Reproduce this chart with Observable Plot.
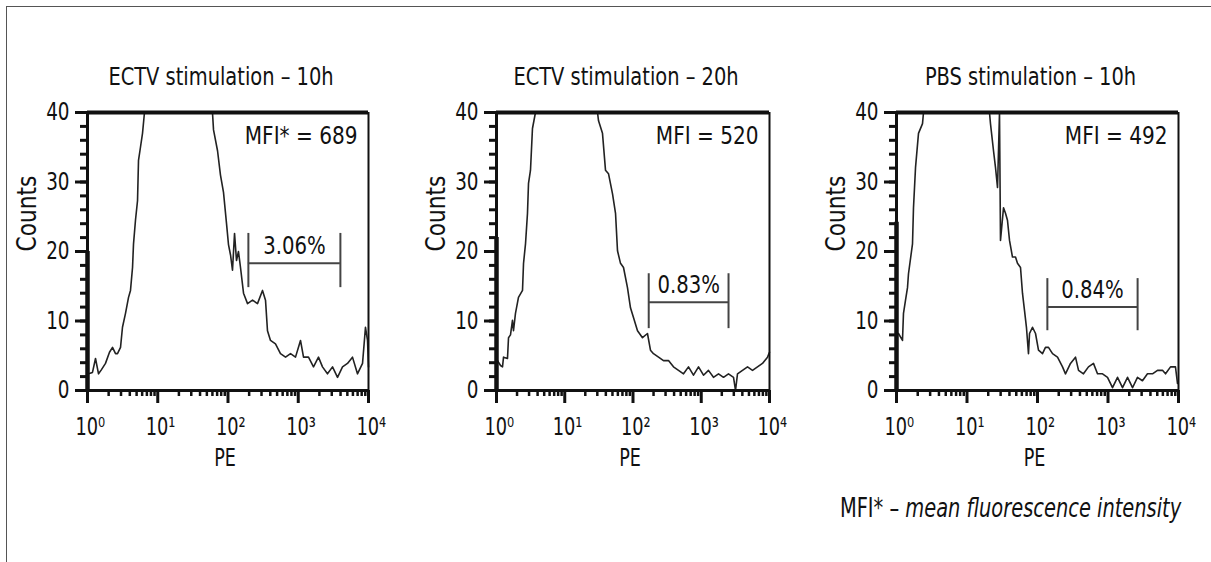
<!DOCTYPE html>
<html><head><meta charset="utf-8">
<script src="https://cdn.jsdelivr.net/npm/d3@7"></script>
<script src="https://cdn.jsdelivr.net/npm/@observablehq/plot@0.6"></script>
<style>
body{margin:0;background:#fff;}
#page{position:relative;width:1211px;height:562px;overflow:hidden;background:#fff;font-family:"Liberation Sans Narrow","DejaVu Sans Condensed",sans-serif;color:#111;}
#frame{position:absolute;left:6px;top:6px;right:-10px;bottom:-10px;border-top:1.5px solid #555;border-left:1.5px solid #555;}
.panel{position:absolute;top:50px;}
#caption{position:absolute;right:30px;top:495px;font-size:26px;line-height:26px;color:#111;white-space:nowrap;transform:scaleX(0.83);transform-origin:right center;}
</style></head><body>
<div id="page"><div id="frame"></div><div id="caption">MFI* – <i>mean fluorescence intensity</i></div></div>
<script>
// ---- text ----
const titles = ["ECTV stimulation – 10h", "ECTV stimulation – 20h", "PBS stimulation – 10h"];
const mfiLabels = ["MFI* = 689", "MFI = 520", "MFI = 492"];
const gateLabels = ["3.06%", "0.83%", "0.84%"];
const xTickValues = [1, 10, 100, 1000, 10000];
const xTickLabels = ["10⁰", "10¹", "10²", "10³", "10⁴"];
const yTickValues = [0, 10, 20, 30, 40];
const yMinorTicks = [0,2,4,6,8,10,12,14,16,18,20,22,24,26,28,30,32,34,36,38,40];

// ---- gates (PE values, counts) ----
const gateStart = [195, 170, 138];
const gateEnd = [3980, 2510, 2630];
const gateLevel = [18.3, 12.7, 12.0];
const gateTickLow = [14.8, 8.9, 8.6];
const gateTickHigh = [22.6, 16.8, 16.1];

// ---- counts in the first channel (PE = 10^0) ----
const firstBin = [20, 22, 24.2];

// ---- histograms: log10(PE) and counts ----
const p1LogPE = [0.014,0.071,0.114,0.157,0.199,0.256,0.313,0.356,0.399,0.427,0.470,0.498,0.541,0.584,0.612,0.641,0.655,0.683,0.712,0.726,0.754,0.783,0.811,1.779,1.794,1.851,1.893,1.936,1.979,2.007,2.036,2.064,2.093,2.121,2.149,2.178,2.221,2.278,2.349,2.420,2.491,2.534,2.562,2.605,2.676,2.747,2.819,2.890,2.961,3.032,3.075,3.146,3.217,3.288,3.345,3.416,3.488,3.559,3.630,3.701,3.772,3.843,3.915,3.957,3.986,4.0];
const p1Counts = [2.4,2.6,4.6,2.4,3.0,3.9,5.5,6.2,5.3,5.3,6.2,9.1,11.1,13.4,14.4,17.7,21.1,24.5,27.3,33.1,35,37,40,40,37.5,34.5,31,28.5,24,21,19.5,17.3,22.6,18.7,20,17.7,14,12.5,13,12.5,14.4,13,8.6,7.2,6.7,5.3,4.8,5.3,4.8,7.2,4.8,4.8,3.4,4.8,3.4,2.4,3.4,1.9,3.4,3.9,4.8,2.4,3.9,9.1,7.2,3.4];

const p2LogPE = [0.015,0.059,0.088,0.103,0.161,0.176,0.205,0.234,0.249,0.278,0.322,0.381,0.396,0.425,0.454,0.469,0.498,0.527,0.571,1.480,1.495,1.553,1.597,1.641,1.700,1.744,1.773,1.817,1.861,1.919,1.963,2.007,2.066,2.139,2.212,2.256,2.300,2.374,2.447,2.520,2.593,2.667,2.740,2.813,2.886,2.960,3.033,3.106,3.179,3.253,3.326,3.399,3.473,3.502,3.531,3.604,3.678,3.751,3.824,3.897,3.971,4.0];
const p2Counts = [4.3,3.6,3.4,4.8,4.6,7.6,8,10.1,8.6,11.1,13.4,14.4,18.3,21.1,25.5,29.8,31.7,37.7,40,40,38.8,37,31.7,31.2,28.3,25.5,20.1,18.3,17.7,14.8,11.9,10.5,8.6,7.6,8.2,5.8,5.3,4.8,4.3,4.3,3.4,2.9,2.4,3.4,2.2,3.4,2.2,2.9,1.9,2.4,1.9,2.4,1.9,0,2.4,2.9,3.4,2.9,3.4,3.9,4.8,5.5];

const p3LogPE = [0.028,0.085,0.099,0.128,0.156,0.170,0.227,0.241,0.270,0.312,0.369,0.383,1.319,1.333,1.376,1.404,1.433,1.461,1.475,1.518,1.546,1.574,1.603,1.645,1.688,1.716,1.759,1.787,1.816,1.844,1.872,1.887,1.929,1.972,2.014,2.071,2.113,2.156,2.213,2.284,2.355,2.397,2.468,2.539,2.582,2.652,2.723,2.794,2.851,2.922,2.993,3.064,3.135,3.206,3.277,3.348,3.418,3.489,3.560,3.631,3.702,3.773,3.816,3.887,3.957,3.986];
const p3Counts = [8.2,7.2,11.1,13,14.8,16.8,21.1,26.3,32.1,37,38.4,40,40,38.4,34.5,32.1,29.2,40,21.6,26.3,25.5,24.5,21.6,19.2,19.2,18.3,17.7,14,11.5,9,5.3,8.2,9.1,8.2,5.8,5.3,6.2,6.2,5.3,4.8,3.4,2.4,3.9,4.8,2.9,2.4,3.4,3.9,2.4,2.4,1.9,0.4,1.9,0.4,1.9,0.4,1.9,1.4,2.4,2.4,2.9,2.9,2.4,3.4,3.4,1];

const logPE = [p1LogPE, p2LogPE, p3LogPE];
const counts = [p1Counts, p2Counts, p3Counts];

// ---- layout (page pixels of 10^0 and 10^4) ----
const panelLeft = [87, 496, 896];
const panelRight = [368, 769, 1178];

const FONT = '"Liberation Sans Narrow","DejaVu Sans Condensed",sans-serif';
// horizontal condensing of each text group (the original uses a condensed face)
const squeezeBy = {title: 0.9, mfi: 0.93, ytick: 0.85, xtick: 0.79, xlabel: 0.78, ylabel: 0.93, gate: 0.91};
const minorX = [];
for (const dec of [1,10,100,1000]) for (let k=2;k<=9;k++) minorX.push(dec*k);

const page = document.getElementById("page");

function squeeze(svg) {
  svg.querySelectorAll("text[aria-label]").forEach(t => {
    const f = squeezeBy[t.getAttribute("aria-label")];
    if (!f) return;
    const w = t.getComputedTextLength();
    if (w > 0) {
      t.setAttribute("textLength", (w * f).toFixed(2));
      t.setAttribute("lengthAdjust", "spacingAndGlyphs");
    }
  });
}
const tag = (name) => () => name;

function makePanel(i) {
  const mL = 87, mR = 22, mT = 62, mB = 90;
  const W = panelRight[i] - panelLeft[i] + mL + mR;
  const rows = logPE[i].map((d, k) => ({pe: Math.pow(10, d), count: counts[i][k]}));
  const gate = [{x1: gateStart[i], x2: gateEnd[i], y: gateLevel[i], lo: gateTickLow[i], hi: gateTickHigh[i], label: gateLabels[i]}];
  const ink = "#111";
  const chart = Plot.plot({
    width: W, height: 430,
    marginLeft: mL, marginRight: mR, marginTop: mT, marginBottom: mB,
    style: {fontFamily: FONT, color: ink, background: "transparent", overflow: "visible"},
    x: {type: "log", domain: [1, 1e4]},
    y: {domain: [0, 40]},
    marks: [
      Plot.axisY({ticks: yMinorTicks, tickSize: 7, strokeWidth: 3, text: null, label: null, stroke: ink}),
      Plot.axisY({ticks: yTickValues, tickSize: 12, strokeWidth: 3, text: null, label: null, stroke: ink}),
      Plot.axisX({ticks: minorX, tickSize: 6, strokeWidth: 2.5, text: null, label: null, stroke: ink}),
      Plot.axisX({ticks: xTickValues, tickSize: 13, strokeWidth: 3, text: null, label: null, stroke: ink}),
      Plot.text(yTickValues, {y: d => d, frameAnchor: "left", text: d => String(d), textAnchor: "end", dx: -18, fontSize: 24, fill: ink, ariaLabel: tag("ytick")}),
      Plot.text(xTickValues, {x: d => d, frameAnchor: "bottom", text: (d, j) => xTickLabels[j], dy: 27, dx: -12, textAnchor: "start", lineAnchor: "top", fontSize: 25, fill: ink, ariaLabel: tag("xtick")}),
      Plot.text(["PE"], {frameAnchor: "bottom", dy: 75, dx: -3, lineAnchor: "bottom", fontSize: 25, fill: ink, ariaLabel: tag("xlabel")}),
      Plot.text(["Counts"], {frameAnchor: "left", rotate: -90, dx: -60, fontSize: 26, fill: ink, ariaLabel: tag("ylabel")}),
      Plot.text([titles[i]], {frameAnchor: "top", dy: -28, dx: -7, lineAnchor: "bottom", fontSize: 24, fill: ink, ariaLabel: tag("title")}),
      Plot.text([mfiLabels[i]], {frameAnchor: "top-right", dx: -11, dy: 14, lineAnchor: "top", textAnchor: "end", fontSize: 24, fill: ink, ariaLabel: tag("mfi")}),
      Plot.line(rows, {x: "pe", y: "count", stroke: "#222", strokeWidth: 1.6}),
      Plot.ruleX([1], {y1: 0, y2: firstBin[i], strokeWidth: 4.5, stroke: ink}),
      Plot.ruleY(gate, {x1: "x1", x2: "x2", y: "y", stroke: "#444", strokeWidth: 2}),
      Plot.ruleX(gate, {x: "x1", y1: "lo", y2: "hi", stroke: "#444", strokeWidth: 2}),
      Plot.ruleX(gate, {x: "x2", y1: "lo", y2: "hi", stroke: "#444", strokeWidth: 2}),
      Plot.text(gate, {x: d => Math.sqrt(d.x1 * d.x2), y: "y", text: "label", dy: -9, lineAnchor: "bottom", fontSize: 24, fill: ink, ariaLabel: tag("gate")}),
      Plot.ruleY([40], {stroke: ink, strokeWidth: 4}),
      Plot.ruleX([1e4], {stroke: ink, strokeWidth: 2}),
      Plot.ruleY([0], {stroke: ink, strokeWidth: 3}),
      Plot.ruleX([1], {stroke: ink, strokeWidth: 3})
    ]
  });
  const wrap = document.createElement("div");
  wrap.className = "panel";
  wrap.style.left = (panelLeft[i] - mL) + "px";
  wrap.appendChild(chart);
  page.appendChild(wrap);
  squeeze(chart);
}
[0, 1, 2].forEach(makePanel);
</script>
</body></html>
